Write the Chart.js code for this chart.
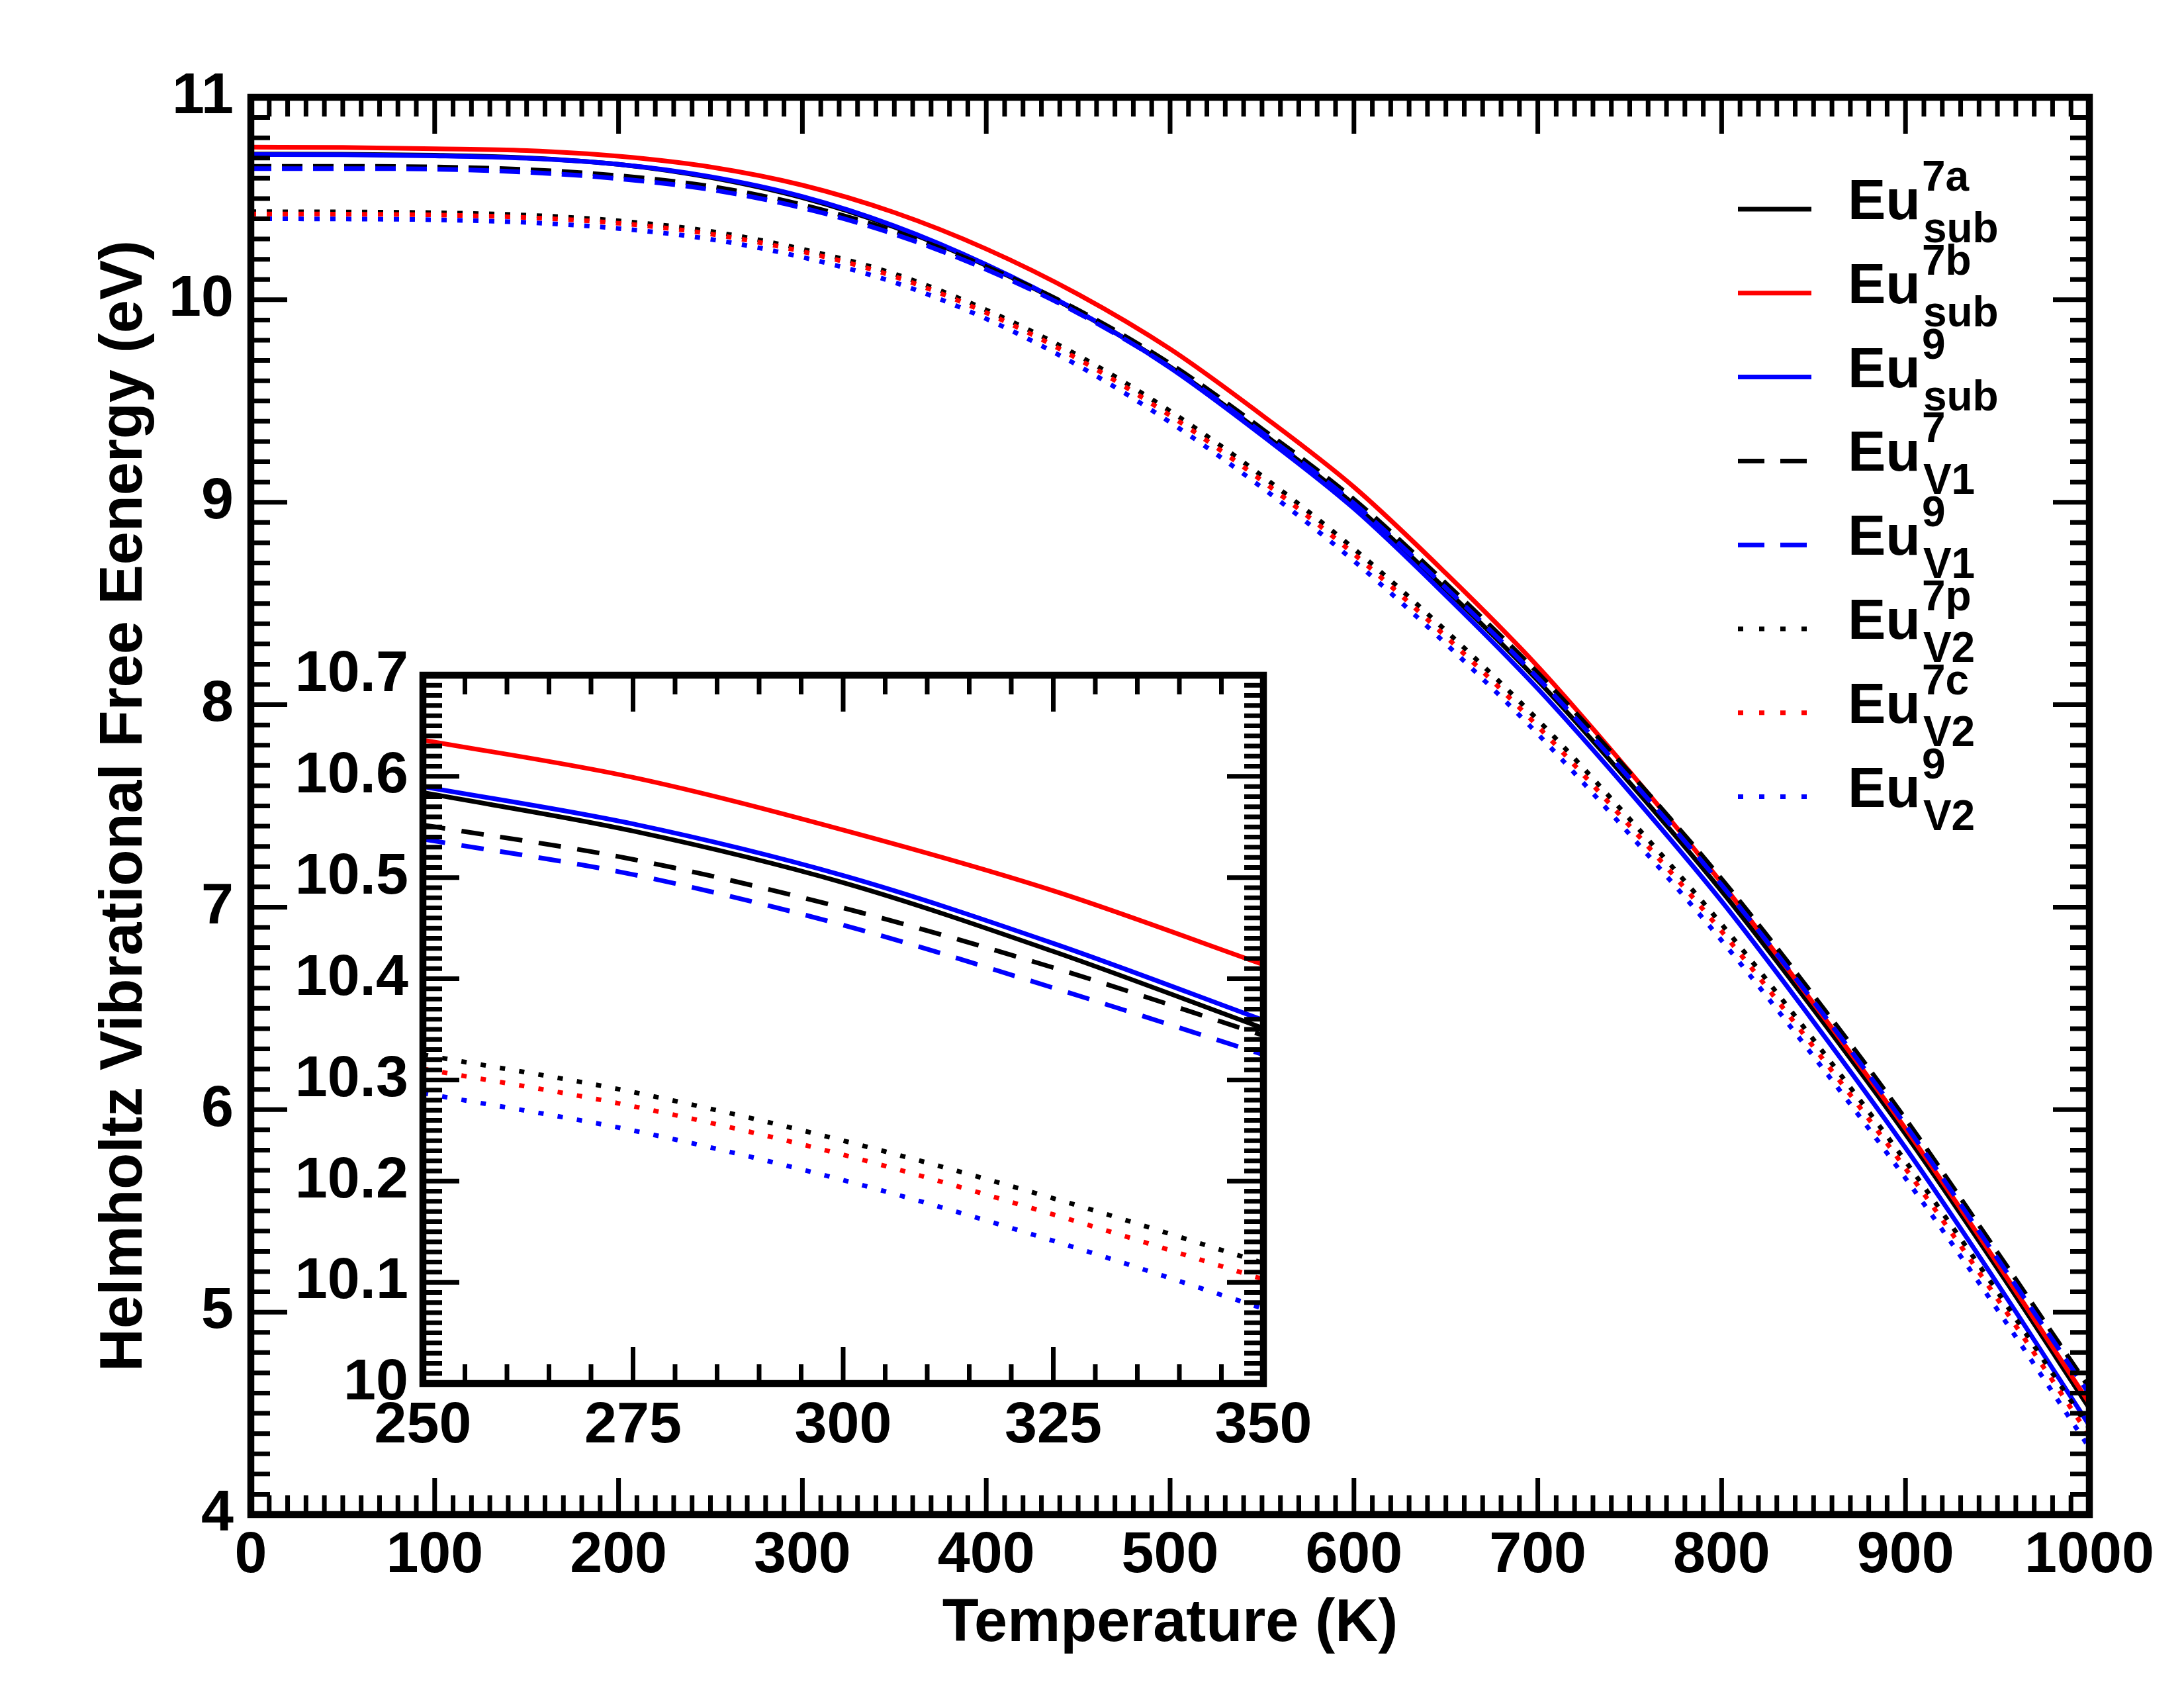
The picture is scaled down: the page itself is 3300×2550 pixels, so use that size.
<!DOCTYPE html>
<html><head><meta charset="utf-8">
<script src="https://cdn.jsdelivr.net/npm/chart.js@4.4.1/dist/chart.umd.min.js"></script>
<style>
html,body{margin:0;padding:0;background:#fff;}
#wrap{position:relative;width:3300px;height:2550px;background:#fff;}
canvas{position:absolute;left:0;top:0;}
</style></head><body>
<div id="wrap"><canvas id="main" width="3300" height="2550"></canvas><canvas id="inset" width="3300" height="2550"></canvas></div>
<script>
// ---------- data ----------
const T = [0,50,100,150,200,250,300,350,400,450,500,550,600,650,700,750,800,850,900,950,1000];
const eu7aSub = [10.720,10.719,10.714,10.701,10.669,10.604,10.504,10.359,10.169,9.941,9.669,9.342,8.989,8.569,8.119,7.614,7.079,6.494,5.879,5.215,4.525];
const eu7bSub = [10.754,10.752,10.746,10.737,10.709,10.656,10.566,10.431,10.251,10.027,9.757,9.430,9.075,8.649,8.189,7.669,7.119,6.524,5.906,5.240,4.550];
const eu9Sub  = [10.717,10.716,10.711,10.699,10.669,10.608,10.510,10.365,10.174,9.943,9.664,9.330,8.969,8.539,8.079,7.569,7.029,6.434,5.811,5.140,4.440];
const eu7V1   = [10.659,10.659,10.656,10.643,10.613,10.560,10.469,10.338,10.164,9.949,9.684,9.362,9.014,8.599,8.157,7.664,7.139,6.564,5.954,5.295,4.625];
const eu9V1   = [10.648,10.648,10.645,10.630,10.598,10.544,10.454,10.324,10.150,9.934,9.667,9.344,8.994,8.577,8.132,7.636,7.109,6.534,5.924,5.265,4.595];
const eu7pV2  = [10.435,10.434,10.430,10.418,10.390,10.338,10.250,10.128,9.950,9.725,9.450,9.130,8.770,8.365,7.925,7.435,6.915,6.345,5.745,5.100,4.425];
const eu7cV2  = [10.424,10.423,10.419,10.406,10.378,10.325,10.238,10.115,9.936,9.707,9.428,9.106,8.744,8.336,7.893,7.401,6.880,6.309,5.709,5.065,4.390];
const eu9V2   = [10.400,10.399,10.395,10.382,10.352,10.299,10.210,10.086,9.906,9.675,9.395,9.072,8.710,8.301,7.855,7.359,6.835,6.263,5.661,5.012,4.330];

const insetT = [250,275,300,325,350];
const in7aSub = [10.584,10.546,10.495,10.427,10.351];
const in7bSub = [10.636,10.599,10.547,10.487,10.414];
const in9Sub  = [10.590,10.553,10.502,10.435,10.359];
const in7V1   = [10.552,10.518,10.470,10.411,10.344];
const in9V1   = [10.538,10.503,10.453,10.391,10.325];
const in7pV2  = [10.325,10.288,10.240,10.183,10.119];
const in7cV2  = [10.311,10.274,10.226,10.167,10.103];
const in9V2   = [10.287,10.250,10.201,10.141,10.074];

const legendSup = ['7a','7b','9','7','9','7p','7c','9'];
const legendSub = ['sub','sub','sub','V1','V1','V2','V2','V2'];
const seriesNames = ['Eu7a_sub','Eu7b_sub','Eu9_sub','Eu7_V1','Eu9_V1','Eu7p_V2','Eu7c_V2','Eu9_V2'];

const mainXTicks = [0,100,200,300,400,500,600,700,800,900,1000];
const mainYTicks = [4,5,6,7,8,9,10,11];
const insetXTicks = [250,275,300,325,350];
const insetYTicks = [10,10.1,10.2,10.3,10.4,10.5,10.6,10.7];
const xTitle = 'Temperature (K)';
const yTitle = 'Helmholtz Vibrational Free Eenergy (eV)';

// ---------- styles ----------
const colors = ['#000000','#ff0000','#0000ff','#000000','#0000ff','#000000','#ff0000','#0000ff'];
const kinds  = ['solid','solid','solid','dash','dash','dot','dot','dot'];
const SANS = '"Liberation Sans", Arial, Helvetica, sans-serif';
const TICK_SIZE = 88;

function makeSets(xs, arrs, dashes){
  return arrs.map((a,i)=>({
    label: seriesNames[i],
    data: xs.map((t,j)=>({x:t,y:a[j]})),
    borderColor: colors[i], backgroundColor: colors[i],
    borderWidth: 7, pointRadius: 0, fill:false,
    borderDash: dashes[kinds[i]], borderCapStyle:'butt', borderJoinStyle:'round',
    cubicInterpolationMode:'monotone', order: arrs.length - i
  }));
}

const frameTicks = {
  id:'frameTicks',
  beforeDatasetsDraw(chart, args, o){
    if(o.fillArea){ const a=chart.chartArea, ctx=chart.ctx; ctx.save(); ctx.fillStyle='#fff'; ctx.fillRect(a.left,a.top,a.right-a.left,a.bottom-a.top); ctx.restore(); }
  },
  afterDatasetsDraw(chart, args, o){
    const {ctx, chartArea:a, scales:{x,y}} = chart;
    ctx.save(); ctx.strokeStyle='#000'; ctx.lineCap='butt'; ctx.lineWidth=7;
    const isMaj=(v,arr)=>arr.some(m=>Math.abs(m-v)<1e-6);
    const nx=Math.round((x.max-x.min)/o.xMinor);
    for(let k=0;k<=nx;k++){
      const v=x.min+k*o.xMinor, p=x.getPixelForValue(v), L=isMaj(v,o.xMajor)?o.majLen:o.minLen;
      ctx.beginPath(); ctx.moveTo(p,a.bottom); ctx.lineTo(p,a.bottom-L); ctx.moveTo(p,a.top); ctx.lineTo(p,a.top+L); ctx.stroke();
    }
    const ny=Math.round((y.max-y.min)/o.yMinor);
    for(let k=0;k<=ny;k++){
      const v=y.min+k*o.yMinor, p=y.getPixelForValue(v), L=isMaj(v,o.yMajor)?o.majLen:o.minLen;
      ctx.beginPath(); ctx.moveTo(a.left,p); ctx.lineTo(a.left+L,p); ctx.moveTo(a.right,p); ctx.lineTo(a.right-L,p); ctx.stroke();
    }
    ctx.lineWidth=10.5; ctx.lineJoin='miter';
    ctx.strokeRect(a.left,a.top,a.right-a.left,a.bottom-a.top);
    ctx.restore();
  }
};

const whiteBg = { id:'whiteBg', beforeDraw(chart,args,o){ if(!o.on) return; const c=chart.ctx; c.save(); c.fillStyle='#fff'; c.fillRect(0,0,chart.width,chart.height); c.restore(); } };

const euLegend = {
  id:'euLegend',
  afterDraw(chart,args,o){
    if(!o.on) return;
    const ctx=chart.ctx;
    chart.data.datasets.forEach((ds,i)=>{
      const yc=316+126.8*i;
      ctx.save();
      ctx.strokeStyle=ds.borderColor; ctx.lineWidth=7; ctx.lineCap='butt';
      ctx.setLineDash(o.dashes[kinds[i]]);
      ctx.beginPath(); ctx.moveTo(2626,yc); ctx.lineTo(2737,yc); ctx.stroke();
      ctx.setLineDash([]);
      ctx.fillStyle='#000'; ctx.textAlign='left'; ctx.textBaseline='alphabetic';
      const base=yc+15;
      ctx.font='bold 86px '+SANS;
      ctx.fillText('Eu',2792,base);
      const w=ctx.measureText('Eu').width;
      ctx.font='bold 64px '+SANS;
      ctx.fillText(legendSup[i],2792+w+2,base-43);
      ctx.fillText(legendSub[i],2792+w+4,base+35);
      ctx.restore();
    });
  }
};

Chart.register(frameTicks, whiteBg, euLegend);

function tickFont(){ return {family:SANS, size:TICK_SIZE, weight:'bold'}; }
function fmt(v){ return String(Number(Number(v).toFixed(2))); }

// ---------- main chart ----------
new Chart(document.getElementById('main'),{
  type:'line',
  data:{ datasets: makeSets(T,[eu7aSub,eu7bSub,eu9Sub,eu7V1,eu9V1,eu7pV2,eu7cV2,eu9V2],{solid:[],dash:[31,16],dot:[8,16]}) },
  options:{
    responsive:false, animation:false, devicePixelRatio:1,
    layout:{padding:{left:79,top:147,right:143,bottom:0}},
    plugins:{ legend:{display:false}, tooltip:{enabled:false},
      whiteBg:{on:true}, euLegend:{on:true, dashes:{solid:[],dash:[40,24],dot:[8,24]}},
      frameTicks:{xMajor:mainXTicks, yMajor:mainYTicks, xMinor:10, yMinor:0.1, majLen:55, minLen:29} },
    scales:{
      x:{ type:'linear', min:0, max:1000,
        afterBuildTicks:s=>{ s.ticks=mainXTicks.map(v=>({value:v})); },
        afterFit:s=>{ s.height=262; },
        grid:{display:false, drawTicks:false}, border:{display:false},
        ticks:{ font:tickFont(), color:'#000', padding:10, maxRotation:0, autoSkip:false, callback:v=>fmt(v) },
        title:{ display:true, text:xTitle, color:'#000', font:{family:SANS, size:90, weight:'bold'}, padding:{top:0,bottom:42} } },
      y:{ type:'linear', min:4, max:11,
        afterBuildTicks:s=>{ s.ticks=mainYTicks.map(v=>({value:v})); },
        afterFit:s=>{ s.width=300; },
        grid:{display:false, drawTicks:false}, border:{display:false},
        ticks:{ font:tickFont(), color:'#000', padding:26, autoSkip:false, callback:v=>fmt(v) },
        title:{ display:true, text:yTitle, color:'#000', font:{family:SANS, size:90, weight:'bold'}, padding:{top:56,bottom:0} } }
    }
  }
});

// ---------- inset chart ----------
new Chart(document.getElementById('inset'),{
  type:'line',
  data:{ datasets: makeSets(insetT,[in7aSub,in7bSub,in9Sub,in7V1,in9V1,in7pV2,in7cV2,in9V2],{solid:[],dash:[34,25],dot:[8,21.5]}) },
  options:{
    responsive:false, animation:false, devicePixelRatio:1,
    layout:{padding:{left:339,top:1020,right:1391,bottom:260}},
    plugins:{ legend:{display:false}, tooltip:{enabled:false},
      whiteBg:{on:false}, euLegend:{on:false},
      frameTicks:{fillArea:true, xMajor:insetXTicks, yMajor:insetYTicks, xMinor:5, yMinor:0.01, majLen:55, minLen:29} },
    scales:{
      x:{ type:'linear', min:250, max:350,
        afterBuildTicks:s=>{ s.ticks=insetXTicks.map(v=>({value:v})); },
        afterFit:s=>{ s.height=200; },
        grid:{display:false, drawTicks:false}, border:{display:false},
        ticks:{ font:tickFont(), color:'#000', padding:12, maxRotation:0, autoSkip:false, callback:v=>fmt(v) } },
      y:{ type:'linear', min:10, max:10.7,
        afterBuildTicks:s=>{ s.ticks=insetYTicks.map(v=>({value:v})); },
        afterFit:s=>{ s.width=300; },
        grid:{display:false, drawTicks:false}, border:{display:false},
        ticks:{ font:tickFont(), color:'#000', padding:22, autoSkip:false, callback:v=>fmt(v) } }
    }
  }
});
</script></body></html>
